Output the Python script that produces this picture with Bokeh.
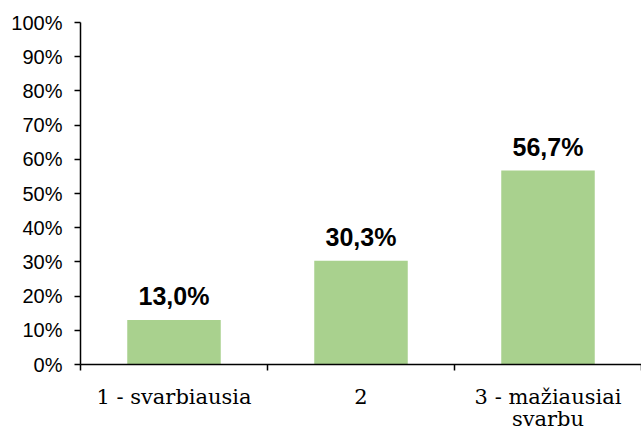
from bokeh.plotting import figure
from bokeh.models import Range1d, FixedTicker, LinearAxis
from bokeh.core.properties import value
from bokeh.embed import file_html
from bokeh.resources import INLINE

categories = ["1 - svarbiausia", "2", "3 - mažiausiai\nsvarbu"]
values = [13.0, 30.3, 56.7]
value_labels = ["13,0%", "30,3%", "56,7%"]
y_ticks = [0, 10, 20, 30, 40, 50, 60, 70, 80, 90, 100]
y_tick_labels = ["0%", "10%", "20%", "30%", "40%", "50%", "60%", "70%", "80%", "90%", "100%"]

xs = [i + 0.5 for i in range(len(categories))]
first_lines = [c.split("\n")[0] for c in categories]
second_lines = [c.split("\n")[1] if "\n" in c else "" for c in categories]

p = figure(frame_width=561, frame_height=342,
           x_range=Range1d(0, len(categories)), y_range=Range1d(0, 100),
           output_backend="svg", toolbar_location=None,
           min_border_left=80, min_border_right=0, min_border_top=22, min_border_bottom=0)
p.outline_line_color = None
p.xgrid.visible = False
p.ygrid.visible = False
p.background_fill_color = "white"
p.border_fill_color = "white"

p.vbar(x=xs, top=values, width=0.5, bottom=0, fill_color="#a9d18e", line_color=None)

p.text(x=xs, y=values, text=value_labels, text_font=value("Liberation Sans"),
       text_font_style="bold", text_font_size="25px", text_align="center",
       text_baseline="bottom", y_offset=-10, text_color="black")

# y axis
ya = p.yaxis[0]
ya.ticker = FixedTicker(ticks=y_ticks, minor_ticks=[])
ya.major_label_overrides = {t: l for t, l in zip(y_ticks, y_tick_labels)}
ya.major_label_text_font = "Liberation Sans"
ya.major_label_text_font_size = "20px"
ya.major_label_text_color = "black"
ya.major_tick_out = 6
ya.major_tick_in = 0
ya.minor_tick_out = 0
ya.minor_tick_in = 0
ya.axis_line_color = "black"
ya.axis_line_width = 1.5
ya.major_tick_line_color = "black"
ya.major_tick_line_width = 1.5
ya.major_label_standoff = 12

# x axis (first line of category labels)
xa = p.xaxis[0]
xa.ticker = FixedTicker(ticks=xs, minor_ticks=list(range(len(categories) + 1)))
xa.major_label_overrides = {x: c for x, c in zip(xs, first_lines)}
xa.major_label_text_font = "DejaVu Serif"
xa.major_label_text_font_size = "21px"
xa.major_label_text_color = "black"
xa.major_tick_out = 0
xa.major_tick_in = 0
xa.minor_tick_out = 6
xa.minor_tick_in = 0
xa.minor_tick_line_color = "black"
xa.minor_tick_line_width = 1.5
xa.axis_line_color = "black"
xa.axis_line_width = 1.5
xa.major_label_standoff = 14

# second line of category labels
xa2 = LinearAxis(ticker=FixedTicker(ticks=xs, minor_ticks=[]))
xa2.major_label_overrides = {x: c for x, c in zip(xs, second_lines)}
xa2.major_label_text_font = "DejaVu Serif"
xa2.major_label_text_font_size = "21px"
xa2.major_label_text_color = "black"
xa2.axis_line_color = None
xa2.major_tick_line_color = None
xa2.minor_tick_line_color = None
xa2.major_tick_out = 0
xa2.major_tick_in = 0
xa2.minor_tick_out = 0
xa2.minor_tick_in = 0
xa2.major_label_standoff = -5
p.add_layout(xa2, "below")

open("out.html", "w").write(file_html(p, INLINE))
